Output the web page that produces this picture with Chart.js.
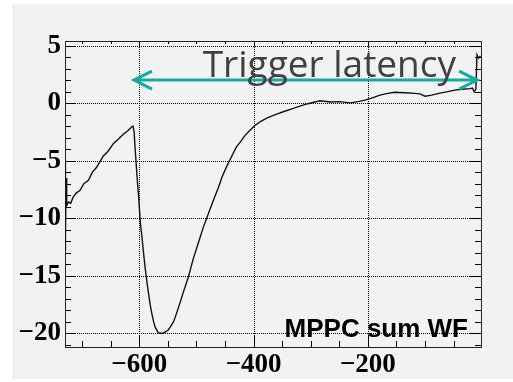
<!DOCTYPE html>
<html>
<head>
<meta charset="utf-8">
<script src="https://cdn.jsdelivr.net/npm/chart.js@4"></script>
<style>
  body { margin: 0; background: #fff; }
  canvas { display: block; }
</style>
</head>
<body>
<canvas id="wfChart" width="513" height="382"></canvas>
<script>
// waveform samples (time, amplitude)
const timeValues = [
    -730, -729.5, -729, -728, -727, -724, -720, -716, -710, -704, -697, -689, -682, -675, -669, -663,
    -655, -645, -636, -628, -620, -613, -611, -609, -607.5, -605, -603, -601, -600, -598, -596, -593,
    -590, -587, -584, -581, -578, -575, -572, -568, -565, -558, -553, -549, -545, -540, -535, -529,
    -522, -514, -506, -497, -488, -479, -470, -462, -455, -447, -438, -430, -422, -415, -407, -399,
    -388, -377, -362, -348, -333, -319, -305, -284, -265, -249, -231, -215, -205, -192, -179, -165,
    -153, -135, -118, -109, -100, -88, -74, -60, -48, -35, -21, -17, -14, -11, -9, -6, -3
];
const ampValues = [
    -12.8, -5.0, -11.5, -6.5, -8.9, -8.6, -8.7, -8.2, -7.8, -7.6, -7.0, -6.7, -6.0, -5.6, -5.1, -4.6,
    -4.2, -3.5, -3.1, -2.7, -2.4, -2.05, -2.0, -2.5, -3.8, -5.6, -7.0, -8.2, -9.0, -10.5, -11.3, -12.8,
    -14.2, -15.4, -16.5, -17.5, -18.3, -19.0, -19.5, -19.85, -20.0, -20.0, -19.85, -19.7, -19.4, -19.0, -18.3, -17.4,
    -16.3, -15.1, -13.6, -12.2, -10.8, -9.6, -8.4, -7.4, -6.4, -5.5, -4.6, -3.8, -3.3, -2.8, -2.4, -2.0,
    -1.6, -1.3, -1.0, -0.75, -0.5, -0.26, -0.05, 0.2, 0.1, 0.13, 0.02, 0.15, 0.26, 0.45, 0.7, 0.85,
    0.95, 0.9, 0.85, 0.8, 0.6, 0.7, 0.87, 1.0, 1.13, 1.2, 1.26, 1.3, 0.98, 1.2, 4.2, 3.9, 4.1
];

const xTickValues = [-600, -400, -200];
const yTickValues = [5, 0, -5, -10, -15, -20];
const xMinorStep = 50;
const yMinorStep = 1;

const arrowStart = -611, arrowEnd = -7, arrowLevel = 2.0;
const arrowLabel = 'Trigger latency';
const plotLabel = 'MPPC sum WF';

const tickFont = { family: "'Liberation Serif', 'Times New Roman', serif", size: 27, weight: 'bold' };

function fmt(v) {
    return v < 0 ? '\u2212' + Math.abs(v) : String(v);
}

// grey panel behind everything
const panelPlugin = {
    id: 'panel',
    beforeDraw(chart) {
        const ctx = chart.ctx;
        ctx.save();
        ctx.fillStyle = '#f2f2f2';
        ctx.fillRect(13, 4, 500, 375);
        ctx.fillStyle = '#e6e6e6';
        ctx.fillRect(13, 4, 1, 375);
        ctx.restore();
    }
};

// ROOT style frame, dotted grid and inner ticks
const framePlugin = {
    id: 'frame',
    beforeDatasetsDraw(chart) {
        const { ctx, chartArea: a, scales: { x, y } } = chart;
        ctx.save();
        ctx.strokeStyle = '#000';
        ctx.lineWidth = 1;
        ctx.setLineDash([1, 1]);
        ctx.beginPath();
        xTickValues.forEach(v => {
            const px = Math.round(x.getPixelForValue(v)) + 0.5;
            ctx.moveTo(px, a.top); ctx.lineTo(px, a.bottom);
        });
        yTickValues.forEach(v => {
            const py = Math.round(y.getPixelForValue(v)) + 0.5;
            ctx.moveTo(a.left, py); ctx.lineTo(a.right, py);
        });
        ctx.stroke();
        ctx.setLineDash([]);

        ctx.beginPath();
        for (let v = Math.ceil(x.min / xMinorStep) * xMinorStep; v <= x.max; v += xMinorStep) {
            const px = Math.round(x.getPixelForValue(v)) + 0.5;
            const len = v % 200 === 0 ? 11 : 6;
            ctx.moveTo(px, a.bottom); ctx.lineTo(px, a.bottom - len);
            ctx.moveTo(px, a.top); ctx.lineTo(px, a.top + len * 0.5);
        }
        for (let v = Math.ceil(y.min / yMinorStep) * yMinorStep; v <= y.max; v += yMinorStep) {
            const py = Math.round(y.getPixelForValue(v)) + 0.5;
            const len = v % 5 === 0 ? 11 : 6;
            ctx.moveTo(a.left, py); ctx.lineTo(a.left + len, py);
            ctx.moveTo(a.right, py); ctx.lineTo(a.right - len, py);
        }
        ctx.stroke();

        ctx.strokeStyle = '#222';
        ctx.strokeRect(Math.round(a.left) + 0.5, Math.round(a.top) + 0.5,
            Math.round(a.right - a.left), Math.round(a.bottom - a.top));
        ctx.restore();
    },
    afterDraw(chart) {
        const { ctx, chartArea: a, scales: { x, y } } = chart;
        ctx.save();
        // arrow
        const x0 = x.getPixelForValue(arrowStart);
        const x1 = x.getPixelForValue(arrowEnd);
        const py = y.getPixelForValue(arrowLevel);
        ctx.strokeStyle = '#17aba0';
        ctx.lineWidth = 3;
        ctx.lineCap = 'butt';
        ctx.beginPath();
        ctx.moveTo(x0, py); ctx.lineTo(x1, py);
        ctx.moveTo(x0 + 19, py - 9); ctx.lineTo(x0 + 1, py); ctx.lineTo(x0 + 19, py + 9);
        ctx.moveTo(x1 - 19, py - 9); ctx.lineTo(x1 - 1, py); ctx.lineTo(x1 - 19, py + 9);
        ctx.stroke();

        ctx.fillStyle = '#404040';
        ctx.font = "37px 'Open Sans'";
        ctx.textBaseline = 'alphabetic';
        ctx.textAlign = 'left';
        ctx.fillText(arrowLabel, x.getPixelForValue(-489), y.getPixelForValue(2.3));

        ctx.fillStyle = '#000';
        ctx.font = "bold 26px 'Liberation Sans', Arial, sans-serif";
        ctx.textAlign = 'right';
        ctx.fillText(plotLabel, a.right - 13, a.bottom - 10);
        ctx.restore();
    }
};

const ctx = document.getElementById('wfChart').getContext('2d');
new Chart(ctx, {
    type: 'line',
    data: {
        datasets: [{
            data: timeValues.map((t, i) => ({ x: t, y: ampValues[i] })),
            borderColor: '#111',
            borderWidth: 1.4,
            pointRadius: 0,
            tension: 0,
            fill: false
        }]
    },
    options: {
        responsive: false,
        animation: false,
        layout: { padding: { left: 0, top: 41, right: 32, bottom: 0 } },
        plugins: { legend: { display: false }, tooltip: { enabled: false } },
        scales: {
            x: {
                type: 'linear',
                min: -730,
                max: -2,
                grid: { display: false, drawTicks: false },
                border: { display: false },
                afterBuildTicks: s => { s.ticks = xTickValues.map(v => ({ value: v })); },
                afterFit: s => { s.height = 35; },
                ticks: { color: '#000', font: tickFont, padding: 2, maxRotation: 0, callback: v => fmt(v) }
            },
            y: {
                min: -21.2,
                max: 5.4,
                grid: { display: false, drawTicks: false },
                border: { display: false },
                afterBuildTicks: s => { s.ticks = yTickValues.map(v => ({ value: v })); },
                afterFit: s => { s.width = 65; },
                ticks: { color: '#000', font: tickFont, padding: 4, callback: v => fmt(v) }
            }
        }
    },
    plugins: [panelPlugin, framePlugin]
});
</script>
</body>
</html>
